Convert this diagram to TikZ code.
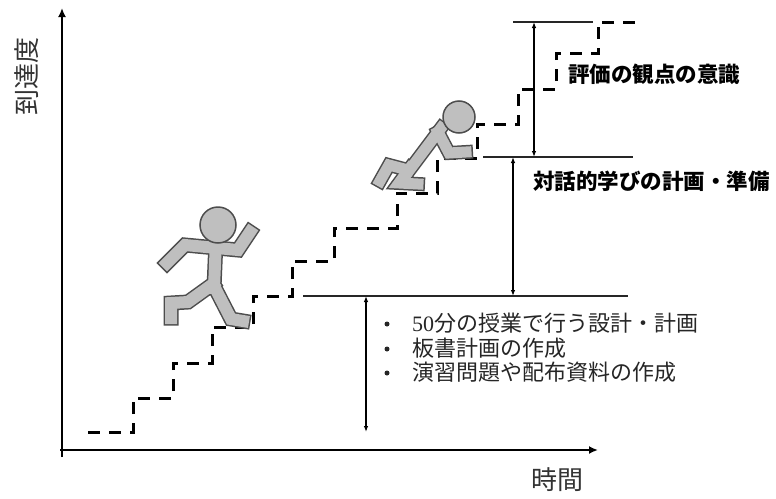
\documentclass[tikz,border=0pt]{standalone}
\usepackage{fontspec}
\newfontfamily\cjk{Noto Sans CJK JP}
\newfontfamily\numfont{Liberation Serif}
\usetikzlibrary{arrows.meta}
\definecolor{figfill}{HTML}{BFBFBF}
\definecolor{figline}{HTML}{4D4D4D}
\begin{document}
\begin{tikzpicture}[x=1pt,y=-1pt,
  axis/.style={line width=2.6pt,-{Latex[length=9pt,width=8pt]}},
  level/.style={line width=1.8pt, black!85},
  span/.style={line width=1.1pt,{Latex[length=6pt,width=4.5pt]}-{Latex[length=6pt,width=4.5pt]}},
  stairs/.style={line width=3pt, dash pattern=on 12pt off 9pt},
  heading/.style={font=\cjk\bfseries\fontsize{21.5}{25}\selectfont, anchor=west, inner sep=0pt},
  item/.style={font=\cjk\fontsize{22}{25}\selectfont, anchor=west, inner sep=0pt, text=black!85},
  dot/.style={circle, fill=black!85, inner sep=0pt, minimum size=5pt},
  axislabel/.style={font=\cjk\fontsize{26}{30}\selectfont, text=black!80, inner sep=0pt},
  limbout/.style={line width=15pt, figline, line cap=rect, line join=miter},
  limbin/.style={line width=12pt, figfill, line cap=rect, line join=miter},
  headshape/.style={fill=figfill, draw=figline, line width=1.5pt}
]
\useasboundingbox (0,0) rectangle (776,498);

% axes
\coordinate (origin) at (62,457);
\coordinate (ytop) at (62,8);
\coordinate (xleft) at (60,450);
\coordinate (xright) at (598,450);
\draw[axis] (origin) -- (ytop);
\draw[axis] (xleft) -- (xright);
\node[axislabel, rotate=90] (ylab) at (27,76) {到達度};
\node[axislabel] (xlab) at (557,480) {時間};

% staircase of growth
\draw[stairs] (88,432) -- (133,432) -- (133,398) -- (173,398) -- (173,363)
  -- (212,363) -- (212,327) -- (253,327) -- (253,296) -- (292,296)
  -- (292,261) -- (334,261) -- (334,228) -- (397,228) -- (397,193)
  -- (437,193) -- (437,158) -- (477,158) -- (477,124) -- (518,124)
  -- (518,89) -- (556,89) -- (556,53) -- (598,53) -- (598,22) -- (642,22);

% level lines
\coordinate (l1a) at (513,22);  \coordinate (l1b) at (593,22);
\coordinate (l2a) at (483,157); \coordinate (l2b) at (633,157);
\coordinate (l3a) at (303,296); \coordinate (l3b) at (628,296);
\draw[level] (l1a) -- (l1b);
\draw[level] (l2a) -- (l2b);
\draw[level] (l3a) -- (l3b);

% spans between levels
\coordinate (s1t) at (534,22);  \coordinate (s1b) at (534,157);
\coordinate (s2t) at (513,157); \coordinate (s2b) at (513,296);
\coordinate (s3t) at (366,296); \coordinate (s3b) at (366,432);
\draw[span] (s1t) -- (s1b);
\draw[span] (s2t) -- (s2b);
\draw[span] (s3t) -- (s3b);

% labels
\node[heading] (h1) at (568,74) {評価の観点の意識};
\node[heading] (h2) at (533,181) {対話的学びの計画・準備};

\node[dot] (d1) at (387,324) {};
\node[dot] (d2) at (387,349) {};
\node[dot] (d3) at (387,373) {};
\node[item] (i1) at (412,323) {{\numfont 50}分の授業で行う設計・計画};
\node[item] (i2) at (412,348) {板書計画の作成};
\node[item] (i3) at (412,372) {演習問題や配布資料の作成};

% running figure
\foreach \st in {limbout,limbin}{
  \draw[\st] (216,240) -- (214,288);
  \draw[\st] (167,263) -- (185,245) -- (238,250) -- (250,232);
  \draw[\st] (213,284) -- (188,302) -- (171,303) -- (171,318);
  \draw[\st] (214,286) -- (231,319) -- (243,321);
}
\draw[headshape] (218,225) circle (18);

% climbing figure
\begin{scope}[limbout/.append style={line width=14pt}, limbin/.append style={line width=11pt}]
\foreach \st in {limbout,limbin}{
  \draw[\st] (441,128) -- (408,172);
  \draw[\st] (438,132) -- (449,153) -- (466,152);
  \draw[\st] (408,170) -- (389,165) -- (380,181);
  \draw[\st] (410,168) -- (399,183) -- (418,184);
}
\end{scope}
\draw[headshape] (459,117) circle (16);
\end{tikzpicture}
\end{document}
